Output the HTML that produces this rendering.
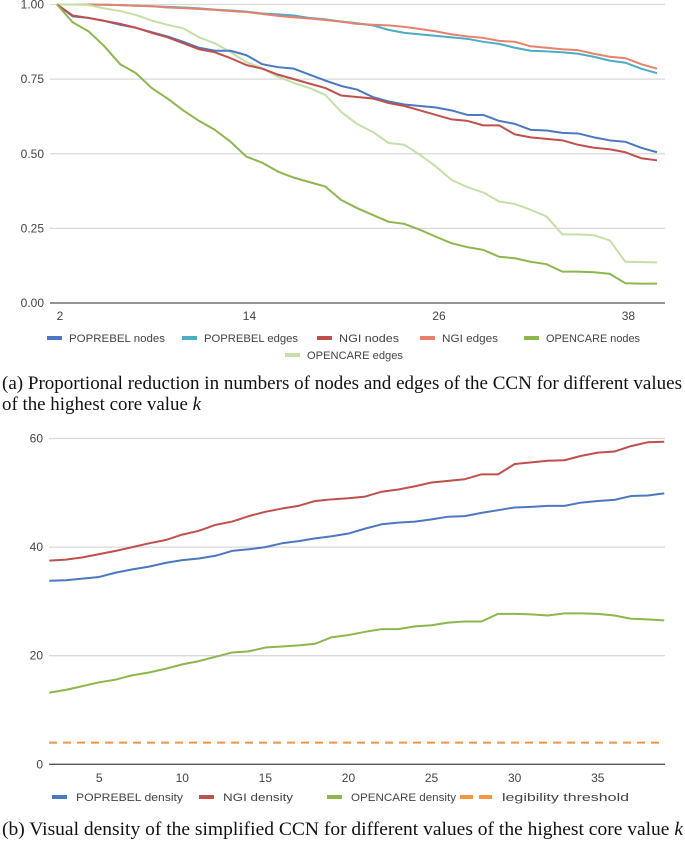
<!DOCTYPE html>
<html><head><meta charset="utf-8"><style>
body{margin:0;background:#fff;width:685px;height:845px;overflow:hidden}
svg{display:block}
.tk{font-family:"Liberation Sans",sans-serif;font-size:12px;fill:#444}
.lg{font-family:"Liberation Sans",sans-serif;font-size:11px;fill:#444}
.cap{font-family:"Liberation Serif",serif;font-size:18.5px;fill:#111}
</style></head><body>
<svg id="s" width="685" height="845" viewBox="0 0 685 845">
<text class="cap" x="2" y="389" textLength="680" lengthAdjust="spacingAndGlyphs">(a) Proportional reduction in numbers of nodes and edges of the CCN for different values</text>
<text class="cap" x="2" y="410" textLength="199" lengthAdjust="spacingAndGlyphs">of the highest core value <tspan font-style="italic">k</tspan></text>
<text class="cap" x="2" y="835" textLength="681" lengthAdjust="spacingAndGlyphs">(b) Visual density of the simplified CCN for different values of the highest core value <tspan font-style="italic">k</tspan></text>
</svg>
<script>
// ---- Chart A data (k = 2..40)
const kA = [2,3,4,5,6,7,8,9,10,11,12,13,14,15,16,17,18,19,20,21,22,23,24,25,26,27,28,29,30,31,32,33,34,35,36,37,38,39,40];
const popNodes = [1,.96,.955,.945,.932,.922,.907,.893,.875,.855,.845,.845,.83,.80,.79,.785,.765,.745,.727,.715,.69,.675,.665,.66,.655,.645,.63,.63,.61,.6,.58,.578,.57,.568,.555,.545,.54,.52,.505];
const popEdges = [1,1,1,.999,.998,.996,.994,.992,.99,.987,.983,.98,.976,.97,.967,.963,.955,.95,.943,.937,.93,.915,.905,.9,.895,.89,.885,.875,.868,.855,.845,.843,.84,.835,.825,.812,.805,.785,.77];
const ngiNodes = [1,.963,.955,.945,.935,.922,.905,.89,.87,.85,.84,.82,.797,.785,.765,.75,.735,.72,.695,.69,.685,.67,.66,.645,.63,.615,.61,.595,.595,.565,.555,.55,.545,.53,.52,.515,.505,.485,.478];
const ngiEdges = [1,1,1,.999,.998,.996,.994,.99,.988,.985,.982,.978,.975,.968,.962,.957,.953,.948,.942,.935,.932,.93,.925,.918,.91,.9,.893,.888,.878,.875,.86,.855,.85,.847,.835,.825,.82,.8,.785];
const ocNodes = [1,.94,.91,.86,.80,.77,.72,.685,.645,.61,.58,.54,.49,.47,.44,.42,.405,.39,.345,.318,.295,.272,.265,.245,.222,.2,.187,.178,.155,.15,.138,.13,.105,.105,.103,.098,.066,.065,.065];
const ocEdges = [1,1,.998,.987,.978,.965,.946,.932,.92,.89,.87,.84,.807,.787,.758,.737,.72,.697,.64,.60,.573,.536,.53,.496,.457,.412,.388,.37,.34,.332,.312,.29,.23,.23,.227,.21,.138,.137,.136];
const ticksA = [0,0.25,0.5,0.75,1];
const xTicksA = [2,14,26,38];
// ---- Chart B data (k = 2..39)
const kB = [2,3,4,5,6,7,8,9,10,11,12,13,14,15,16,17,18,19,20,21,22,23,24,25,26,27,28,29,30,31,32,33,34,35,36,37,38,39];
const popDens = [33.8,33.9,34.2,34.5,35.3,35.9,36.4,37.1,37.6,37.9,38.4,39.3,39.6,40.0,40.7,41.1,41.6,42.0,42.5,43.4,44.2,44.5,44.7,45.1,45.6,45.7,46.3,46.8,47.3,47.4,47.6,47.6,48.2,48.5,48.7,49.4,49.5,49.9];
const ngiDens = [37.5,37.7,38.1,38.7,39.3,40.0,40.7,41.3,42.3,43.0,44.1,44.7,45.7,46.5,47.1,47.6,48.5,48.8,49.0,49.3,50.2,50.6,51.2,51.9,52.2,52.5,53.4,53.4,55.3,55.6,55.9,56.0,56.8,57.4,57.6,58.6,59.3,59.4];
const ocDens = [13.2,13.7,14.4,15.1,15.6,16.4,16.9,17.6,18.4,19.0,19.8,20.6,20.8,21.5,21.7,21.9,22.2,23.4,23.8,24.4,24.9,24.9,25.4,25.6,26.1,26.3,26.3,27.7,27.7,27.6,27.4,27.8,27.8,27.7,27.4,26.8,26.7,26.5];
const threshold = [4];
const ticksB = [0,20,40,60];
const xTicksB = [5,10,15,20,25,30,35];

const NS="http://www.w3.org/2000/svg";
const svg=document.getElementById('s');
function mk(tag,attrs,parent){const e=document.createElementNS(NS,tag);for(const a in attrs)e.setAttribute(a,attrs[a]);(parent||svg).appendChild(e);return e;}

// Chart A axes
const xA=k=>57+(k-2)*(600/38);
const yA=v=>303-v*298.5;
const gA=mk('g',{});


ticksA.forEach(t=>{
  if(t>0){const l=mk('line',{x1:50,x2:665,y1:yA(t),y2:yA(t),stroke:'#d9d9d9','stroke-width':1.3},gA);
  
  }
  const tx=mk('text',{x:44,y:yA(t)+4,'text-anchor':'end',class:'tk'},gA);tx.textContent=t.toFixed(2);
  
  
});
const axA=mk('line',{x1:50,x2:665,y1:303,y2:303,stroke:'#555','stroke-width':1.3},gA);


xTicksA.forEach(k=>{const tx=mk('text',{x:xA(k)+3,y:320,'text-anchor':'middle',class:'tk'},gA);tx.textContent=k;
  
  });
const seriesA=[[popEdges,'#4bacc6','poprebel-edges-line'],[ngiEdges,'#e8806c','ngi-edges-line'],[ocEdges,'#c4e0a6','opencare-edges-line'],[popNodes,'#4a78c2','poprebel-nodes-line'],[ngiNodes,'#c0504d','ngi-nodes-line'],[ocNodes,'#8db64d','opencare-nodes-line']];
seriesA.forEach(([d,c,n])=>{
  const p=mk('polyline',{points:d.map((v,i)=>xA(kA[i])+','+yA(v)).join(' '),fill:'none',stroke:c,'stroke-width':2,'stroke-linejoin':'round'},gA);
  
  
});
// Legend A
const legA=[[47,338,'#4a78c2','POPREBEL nodes',96],[182,338,'#4bacc6','POPREBEL edges',94],[317,338,'#c0504d','NGI nodes',60],[420,338,'#e8806c','NGI edges',56],[524,338,'#8db64d','OPENCARE nodes',94],[285,355,'#c4e0a6','OPENCARE edges',96]];
legA.forEach(([x,y,c,t,w])=>{
  const r=mk('rect',{x:x,y:y-2,width:15,height:4,fill:c},gA);
  
  
  const tx=mk('text',{x:x+22,y:y+4,class:'lg',textLength:w,lengthAdjust:'spacingAndGlyphs'},gA);tx.textContent=t;
  
  
});

// Chart B axes
const xB=k=>49.3+(k-2)*16.62;
const yB=v=>764.3-v*5.43;
const gB=mk('g',{});


ticksB.forEach(t=>{
  if(t>0){const l=mk('line',{x1:49,x2:665,y1:yB(t),y2:yB(t),stroke:'#d9d9d9','stroke-width':1.3},gB);
  
  }
  const tx=mk('text',{x:43,y:yB(t)+4,'text-anchor':'end',class:'tk'},gB);tx.textContent=t;
  
  
});
const axB=mk('line',{x1:49,x2:665,y1:764.3,y2:764.3,stroke:'#555','stroke-width':1.3},gB);


xTicksB.forEach(k=>{const tx=mk('text',{x:xB(k),y:782,'text-anchor':'middle',class:'tk'},gB);tx.textContent=k;
  
  });
const th=mk('line',{x1:49,x2:665,y1:yB(threshold[0]),y2:yB(threshold[0]),stroke:'#f59441','stroke-width':2,'stroke-dasharray':'8,6'},gB);


const seriesB=[[popDens,'#4a78c2','poprebel-density-line'],[ngiDens,'#c0504d','ngi-density-line'],[ocDens,'#8db64d','opencare-density-line']];
seriesB.forEach(([d,c,n])=>{
  const p=mk('polyline',{points:d.map((v,i)=>xB(kB[i])+','+yB(v)).join(' '),fill:'none',stroke:c,'stroke-width':2,'stroke-linejoin':'round'},gB);
  
  
});
const legB=[[52,'#4a78c2','POPREBEL density',0,107],[199,'#c0504d','NGI density',0,70],[327,'#8db64d','OPENCARE density',0,105],[460,'#f59441','legibility threshold',1,127]];
legB.forEach(([x,c,t,d,w])=>{
  if(d){
    [0,19].forEach(o=>{const r=mk('rect',{x:x+o,y:795,width:13,height:4,fill:c},gB);
    
    });
  } else {
    const r=mk('rect',{x:x,y:795,width:15,height:4,fill:c},gB);
    
    
  }
  const tx=mk('text',{x:x+(d?42:24),y:801,class:'lg',textLength:w,lengthAdjust:'spacingAndGlyphs'},gB);tx.textContent=t;
  
  
});
</script>
</body></html>
